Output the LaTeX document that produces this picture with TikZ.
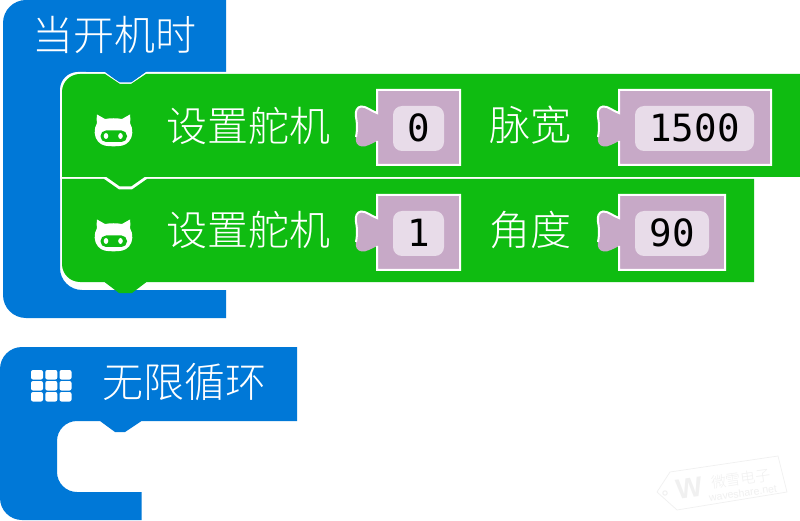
\documentclass[tikz,border=0pt]{standalone}
\usepackage{fontspec}
\newfontfamily\cjkf{Noto Sans CJK SC Light}
\newfontfamily\monof{DejaVu Sans Mono}
\newfontfamily\wmf{Liberation Sans}
\definecolor{hatblue}{HTML}{0078D7}
\definecolor{blockgreen}{HTML}{0FBC11}
\definecolor{slotpurple}{HTML}{C7A9C7}
\definecolor{fieldpale}{HTML}{E8DCE9}
\definecolor{wmgray}{HTML}{F0F0F0}
\tikzset{
  cjklabel/.style={text=white,inner sep=0pt,font=\cjkf\fontsize{41}{41}\selectfont},
  numlabel/.style={text=black,inner sep=0pt,font=\monof\fontsize{37.5}{38}\selectfont},
  slot/.style={draw=white,line width=2pt},
  field/.style={fill=fieldpale,rounded corners=9pt},
}
% #1 left, #2 top, #3 right (outer), #4 field left, #5 field right, #6 text, #7 name
\newcommand{\valueslot}[7]{%
  \begin{scope}[shift={(#1,#2)}]
  \fill[slotpurple] (0,0) -- ({#3-#1},0) -- ({#3-#1},75) -- (0,75) -- (0,51)
    .. controls (-6,54) and (-11,57) .. (-15,56.5)
    .. controls (-20,56) and (-22,52) .. (-21,47)
    .. controls (-20.3,43) and (-20,40) .. (-20,37)
    .. controls (-20,34) and (-20.3,31) .. (-21,27)
    .. controls (-22,21) and (-20,17) .. (-16,16.5)
    .. controls (-11,16) and (-6,21) .. (0,23) -- cycle;
  \draw[slot] (0,51) -- (0,75) -- ({#3-#1},75) -- ({#3-#1},0) -- (0,0) -- (0,23)
    .. controls (-6,21) and (-11,16) .. (-16,16.5)
    .. controls (-20,17) and (-22,21) .. (-21,27)
    .. controls (-20.3,31) and (-20,34) .. (-20,37)
    .. controls (-20,40) and (-20.3,43) .. (-21,47);
  \end{scope}
  \path[field] (#4,{#2+16}) rectangle (#5,{#2+61});
  \node[numlabel] (#7) at ({(#4+#5)/2},{#2+38}) {#6};
}
\newcommand{\caticon}[1]{%
  \begin{scope}[shift={(0,#1)}]
  \fill[white] (97,114.5) -- (105,119) .. controls (110,118) and (117,118) .. (122,119) -- (130,114.5)
     .. controls (130.5,118) and (130.5,121) .. (130,123)
     .. controls (133.5,129) and (133,137) .. (129,141.5)
     .. controls (125,146) and (120,146.3) .. (113.5,146.3)
     .. controls (107,146.3) and (102,146) .. (98,141.5)
     .. controls (94,137) and (93.5,129) .. (97,123)
     .. controls (96.5,121) and (96.5,118) .. (97,114.5) -- cycle;
  \fill[blockgreen, rounded corners=5.5pt] (100.5,130.5) rectangle (127,142);
  \fill[white] (106,136) ellipse [x radius=2.3, y radius=3];
  \fill[white] (120.5,136) ellipse [x radius=2.3, y radius=3];
  \end{scope}
}
\begin{document}
\begin{tikzpicture}[x=1pt,y=-1pt]
\useasboundingbox (0,0) rectangle (800,521);
\fill[white] (0,0) rectangle (800,521);

% first hat block with its mouth
\fill[hatblue] (226,0) [rounded corners=23pt] -- (3,0) -- (3,318) [sharp corners] -- (226,318) -- (226,290)
  [rounded corners=22pt] -- (60,290) -- (60,72) [sharp corners] -- (105,72) -- (120,83) -- (131,83) -- (146,72) -- (226,72) -- cycle;

% green blocks: white edge, then the fill
\fill[white,rounded corners=18pt] (60,179) -- (60,72) -- (104,72) [sharp corners] -- (119.5,82.5) -- (131.5,82.5) -- (146.5,72) -- (800,72) -- (800,179) -- cycle;
\fill[blockgreen] (800,74) -- (146,74) -- (131,84) -- (120,84) -- (105,74) [rounded corners=18pt] -- (62,74) -- (62,150) [sharp corners] -- (62,177) -- (800,177) -- cycle;
\fill[blockgreen] (754,179) -- (147,179) -- (132,189.5) -- (119,189.5) -- (104,179) -- (62,179)
  [rounded corners=18pt] -- (62,282) [sharp corners] -- (104.5,282) -- (119,293) -- (132,293) -- (146.5,282) -- (754,282) -- cycle;
\fill[blockgreen] (105,176) -- (146,176) -- (131,186.5) -- (120,186.5) -- cycle;

% second hat block
\fill[hatblue] (297,347) [rounded corners=22pt] -- (0,347) -- (0,520) [sharp corners] -- (141.5,520) -- (141.5,492)
  [rounded corners=20pt] -- (57,492) -- (57,421) [sharp corners] -- (100,421) -- (115,432) -- (125,432) -- (141.5,421) -- (297,421) -- cycle;

% labels
\node[cjklabel] (t1) at (114,35) {当开机时};
\node[cjklabel] (t2) at (248,126) {设置舵机};
\node[cjklabel] (t3) at (530.5,125) {脉宽};
\node[cjklabel] (t4) at (248,230) {设置舵机};
\node[cjklabel] (t5) at (530.5,230) {角度};
\node[cjklabel] (t6) at (184.5,382) {无限循环};

\valueslot{377}{90}{460}{393}{444}{0}{v1}
\valueslot{619}{90}{771}{635}{754}{1500}{v2}
\valueslot{377}{195}{460}{393}{444}{1}{v3}
\valueslot{619}{195}{725}{635}{709}{90}{v4}

\caticon{0}
\caticon{105}

% grid icon
\foreach \cx in {31,45.3,59.5}
  \foreach \cy in {370,381,392}
    \fill[white,rounded corners=2pt] (\cx,\cy) rectangle ({\cx+12},{\cy+9.5});

% watermark
\draw[wmgray,line width=.7pt] (657,492) -- (670,472) -- (778,456) -- (787,492) -- (677,510) -- cycle;
\draw[wmgray,line width=1pt] (665,493) circle [radius=2.2];
\node[text=wmgray,rotate=8,inner sep=0pt,font=\wmf\bfseries\fontsize{28}{28}\selectfont] (wm0) at (689,488) {W};
\node[text=wmgray,rotate=8,inner sep=0pt,font=\cjkf\fontsize{15}{15}\selectfont] (wm1) at (741,479) {微雪电子};
\node[text=wmgray,rotate=8,inner sep=0pt,font=\wmf\fontsize{10.5}{10.5}\selectfont] (wm2) at (743,493) {waveshare.net};
\end{tikzpicture}
\end{document}
